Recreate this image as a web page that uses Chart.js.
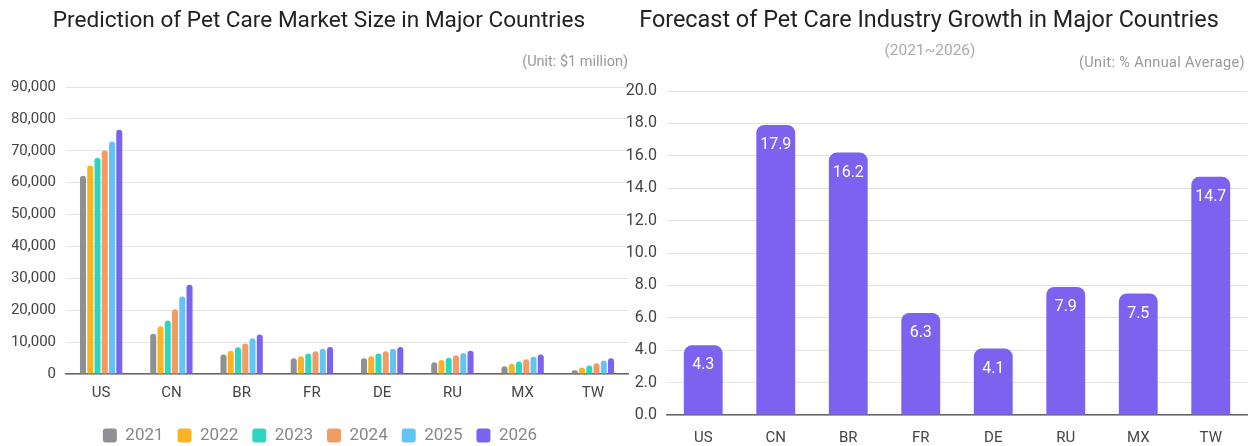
<!DOCTYPE html>
<html>
<head>
<meta charset="utf-8">
<script src="https://cdn.jsdelivr.net/npm/chart.js@4.4.1/dist/chart.umd.min.js"></script>
<style>
  html, body { margin: 0; padding: 0; background: #fff; width: 1258px; height: 446px; overflow: hidden;
    font-family: Roboto, "Noto Sans", sans-serif; }
  .box { position: absolute; top: 0; height: 446px; }
  #leftBox { left: 0; width: 632px; }
  #rightBox { left: 618px; width: 640px; }
  .txt { position: absolute; white-space: nowrap; line-height: 1; }
  .title { color: #222; text-align: center; }
  .note { font-size: 14.5px; color: #999; }
</style>
</head>
<body>
<div class="box" id="leftBox"><canvas id="marketChart"></canvas></div>
<div class="box" id="rightBox"><canvas id="growthChart"></canvas></div>

<div class="txt title" style="left:0; width:638px; top:9px; font-size:22.6px;">Prediction of Pet Care Market Size in Major Countries</div>
<div class="txt note" style="right:630px; top:55px;">(Unit: $1 million)</div>

<div class="txt title" style="left:629px; width:600px; top:8px; font-size:23.4px;">Forecast of Pet Care Industry Growth in Major Countries</div>
<div class="txt note" style="left:630px; width:600px; text-align:center; top:43px; font-size:15.5px; color:#aaa;">(2021~2026)</div>
<div class="txt note" style="right:13px; top:56px; letter-spacing:0.35px;">(Unit: % Annual Average)</div>

<script>
// Countries shown on both charts
const countries = ['US', 'CN', 'BR', 'FR', 'DE', 'RU', 'MX', 'TW'];

// Market size by year, $1 million
const years = ['2021', '2022', '2023', '2024', '2025', '2026'];
const size2021 = [62200, 12600, 6100, 4900, 4900, 3700, 2400, 1200];
const size2022 = [65400, 15000, 7300, 5600, 5600, 4400, 3200, 2000];
const size2023 = [67800, 16800, 8400, 6400, 6400, 5100, 3900, 2700];
const size2024 = [70100, 20300, 9600, 7100, 7100, 5900, 4600, 3400];
const size2025 = [72900, 24300, 11200, 7900, 7900, 6600, 5400, 4200];
const size2026 = [76600, 28000, 12400, 8500, 8500, 7300, 6100, 4900];
const yearColors = ['#8f9094', '#fbb326', '#2ed6c0', '#f29b62', '#63c3f5', '#7b63f0'];

// Average annual growth 2021~2026, %
const growth = [4.3, 17.9, 16.2, 6.3, 4.1, 7.9, 7.5, 14.7];

// Value-axis ranges
const marketTicks = { min: 0, max: 90000, step: 10000 };
const growthTicks = { min: 0, max: 20, step: 2 };

const FONT = 'Roboto, "Noto Sans", sans-serif';
Chart.defaults.font.family = FONT;
Chart.defaults.animation = false;
Chart.defaults.responsive = true;
Chart.defaults.maintainAspectRatio = false;

const sizeSeries = [size2021, size2022, size2023, size2024, size2025, size2026];

new Chart(document.getElementById('marketChart'), {
  type: 'bar',
  data: {
    labels: countries,
    datasets: years.map((y, i) => ({
      label: y,
      data: sizeSeries[i],
      backgroundColor: yearColors[i],
      borderRadius: 3,
      categoryPercentage: 0.62,
      barPercentage: 0.83
    }))
  },
  options: {
    layout: { padding: { top: 87, right: 4, left: 12, bottom: -8 } },
    plugins: {
      tooltip: { enabled: false },
      legend: {
        position: 'bottom',
        labels: {
          boxWidth: 14, boxHeight: 14, useBorderRadius: true, borderRadius: 3,
          color: '#888', font: { size: 17 }, padding: 14
        }
      }
    },
    scales: {
      x: {
        afterFit: s => { s.height = 39; },
        grid: { display: false, drawTicks: false },
        border: { display: true, color: '#666', width: 1.5 },
        ticks: { color: '#444', font: { size: 15 }, padding: 10 }
      },
      y: {
        min: marketTicks.min, max: marketTicks.max,
        afterFit: s => { s.width = 54; },
        grid: { color: '#e3e3e3', drawTicks: false },
        border: { display: false },
        ticks: {
          stepSize: marketTicks.step, color: '#444', font: { size: 15 }, padding: 10,
          callback: v => v.toLocaleString('en-US')
        }
      }
    }
  }
});

// Writes each bar's value in white just inside its top edge
const barValueLabels = {
  id: 'barValueLabels',
  afterDatasetsDraw(chart) {
    const ctx = chart.ctx;
    const meta = chart.getDatasetMeta(0);
    ctx.save();
    ctx.fillStyle = '#fff';
    ctx.font = '16px ' + FONT;
    ctx.textAlign = 'center';
    ctx.textBaseline = 'middle';
    meta.data.forEach((bar, i) => {
      ctx.fillText(chart.data.datasets[0].data[i].toFixed(1), bar.x, bar.y + 20);
    });
    ctx.restore();
  }
};

new Chart(document.getElementById('growthChart'), {
  type: 'bar',
  data: {
    labels: countries,
    datasets: [{
      label: 'Growth',
      data: growth,
      backgroundColor: '#7b63f0',
      borderRadius: 8,
      categoryPercentage: 0.8,
      barPercentage: 0.67
    }]
  },
  options: {
    layout: { padding: { top: 91, right: 11, left: 0, bottom: 0 } },
    plugins: { legend: { display: false }, tooltip: { enabled: false } },
    scales: {
      x: {
        afterFit: s => { s.height = 31; },
        grid: { display: false, drawTicks: false },
        border: { display: true, color: '#666', width: 1.5 },
        ticks: { color: '#444', font: { size: 15 }, padding: 14 }
      },
      y: {
        min: growthTicks.min, max: growthTicks.max,
        afterFit: s => { s.width = 49; },
        grid: { color: '#e3e3e3', drawTicks: false },
        border: { display: false },
        ticks: {
          stepSize: growthTicks.step, color: '#444', font: { size: 16 }, padding: 10,
          callback: v => v.toFixed(1)
        }
      }
    }
  },
  plugins: [barValueLabels]
});
</script>
</body>
</html>
